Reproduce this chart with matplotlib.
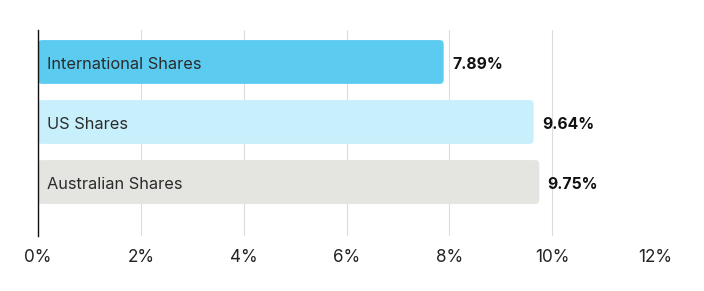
import matplotlib
matplotlib.use("Agg")
import matplotlib.pyplot as plt
from matplotlib.patches import FancyBboxPatch

categories = ["International Shares", "US Shares", "Australian Shares"]
values = [7.89, 9.64, 9.75]
colors = ["#5BCBEF", "#C8F0FC", "#E4E4E0"]
xticks = [0, 2, 4, 6, 8, 10, 12]

plt.rcParams["font.family"] = ["Inter", "DejaVu Sans"]

fig = plt.figure(figsize=(7.04, 2.91), dpi=100)
ax = fig.add_axes([38 / 704, 1 - 236 / 291, (655 - 38) / 704, (236 - 30) / 291])

height = 0.73
bars = ax.barh(range(len(categories)), values, height=height, color="none")
for i, (bar, c) in enumerate(zip(bars, colors)):
    x0, y0 = bar.get_x(), bar.get_y()
    w, h = bar.get_width(), bar.get_height()
    patch = FancyBboxPatch((x0, y0), w, h,
                           boxstyle="round,pad=0,rounding_size=0.08",
                           mutation_aspect=0.85, facecolor=c,
                           edgecolor="none", zorder=3)
    ax.add_patch(patch)
    ax.text(0.18, i + 0.04, categories[i], va="center", ha="left",
            fontsize=11.8, color="#2b2b2b", zorder=4)
    ax.text(values[i] + 0.16, i + 0.04, f"{values[i]:.2f}%", va="center",
            ha="left", fontsize=11.3, fontweight="bold", color="#111111", zorder=4)

ax.set_xlim(0, 12)
ax.set_ylim(2.9, -0.533)
ax.set_xticks(xticks)
ax.set_xticklabels([f"{t}%" for t in xticks], fontsize=12.3, color="#222222")
ax.set_yticks([])
ax.tick_params(axis="x", length=0, pad=9)
ax.grid(axis="x", color="#dcdcdc", linewidth=0.8, zorder=0)
for s in ["top", "right", "bottom"]:
    ax.spines[s].set_visible(False)
ax.spines["left"].set_color("#111111")
ax.spines["left"].set_linewidth(1)
ax.spines["left"].set_zorder(5)

fig.savefig("out.png", dpi=100)
